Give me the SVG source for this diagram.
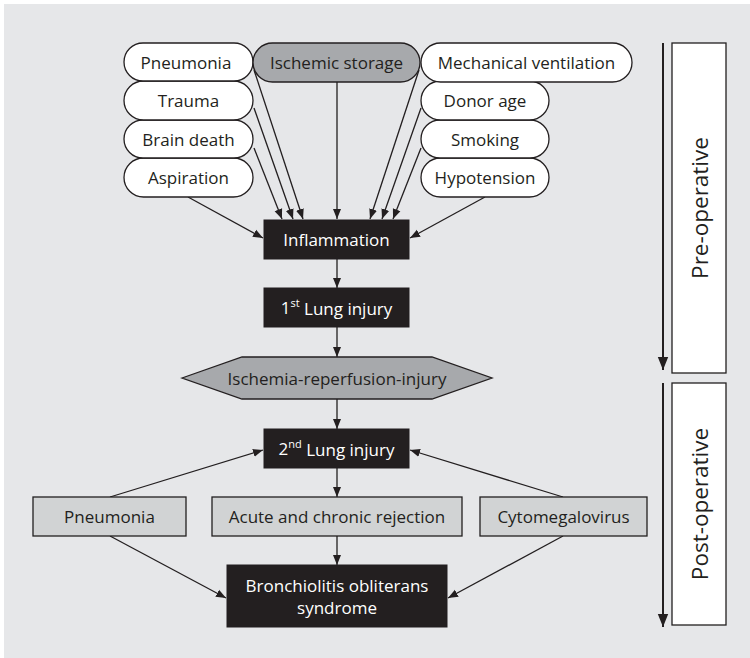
<svg xmlns="http://www.w3.org/2000/svg" width="750" height="658" viewBox="0 0 750 658">
<style>
text{font-family:"Open Sans","Liberation Sans",sans-serif;font-size:17px;text-anchor:middle;dominant-baseline:central;fill:#231f20}
.pill{fill:#ffffff;stroke:#231f20;stroke-width:1.3}
.pillg{fill:#a7a9ac;stroke:#231f20;stroke-width:1.3}
.blk{fill:#231f20;stroke:#231f20}
.wt{fill:#ffffff}
.lt{fill:#d1d3d4;stroke:#231f20;stroke-width:1.3}
.hex{fill:#a7a9ac;stroke:#231f20;stroke-width:1.3}
.side{fill:#ffffff;stroke:#231f20;stroke-width:1.3}
.c{stroke:#231f20;stroke-width:1.3;fill:none;marker-end:url(#ah)}
.vt{font-size:22.5px}
</style>
<defs>
<marker id="ah" viewBox="0 0 10 10" refX="10" refY="5" markerWidth="10" markerHeight="10" markerUnits="userSpaceOnUse" orient="auto">
<path d="M0,1 L10,5 L0,9 Z" fill="#231f20"/>
</marker>
<marker id="ahb" viewBox="0 0 10 10" refX="10" refY="5" markerWidth="13" markerHeight="13" markerUnits="userSpaceOnUse" orient="auto">
<path d="M0,1 L10,5 L0,9 Z" fill="#231f20"/>
</marker>
</defs>
<rect x="0" y="0" width="750" height="658" fill="#ffffff"/>
<rect x="4" y="4" width="746" height="654" fill="#e6e7e9"/>

<g id="connectors">
<line class="c" x1="254" y1="70" x2="303" y2="219"/>
<line class="c" x1="254" y1="108" x2="293" y2="219"/>
<line class="c" x1="254" y1="148" x2="282" y2="219"/>
<line class="c" x1="188" y1="197" x2="263" y2="238"/>
<line class="c" x1="337" y1="82" x2="337" y2="219"/>
<line class="c" x1="419" y1="70" x2="370" y2="219"/>
<line class="c" x1="421" y1="108" x2="382" y2="219"/>
<line class="c" x1="421" y1="148" x2="393" y2="219"/>
<line class="c" x1="485" y1="197" x2="410" y2="238"/>
<line class="c" x1="337" y1="259" x2="337" y2="288"/>
<line class="c" x1="337" y1="327" x2="337" y2="357"/>
<line class="c" x1="337" y1="399" x2="337" y2="429"/>
<line class="c" x1="337" y1="468" x2="337" y2="497"/>
<line class="c" x1="337" y1="536" x2="337" y2="565"/>
<line class="c" x1="110" y1="497" x2="263" y2="450"/>
<line class="c" x1="563" y1="497" x2="410" y2="450"/>
<line class="c" x1="110" y1="536" x2="226" y2="598"/>
<line class="c" x1="563" y1="536" x2="448" y2="598"/>
<line x1="663" y1="43" x2="663" y2="370" stroke="#231f20" stroke-width="2" marker-end="url(#ahb)"/>
<line x1="663" y1="383" x2="663" y2="627" stroke="#231f20" stroke-width="2" marker-end="url(#ahb)"/>
</g>

<g id="aspiration"><rect class="pill" x="124" y="158" width="129" height="39" rx="19.5"/><text x="188.5" y="177.5">Aspiration</text></g>
<g id="brain-death"><rect class="pill" x="124" y="120" width="129" height="38" rx="19"/><text x="188.5" y="139">Brain death</text></g>
<g id="trauma"><rect class="pill" x="124" y="81" width="129" height="39" rx="19.5"/><text x="188.5" y="100.5">Trauma</text></g>
<g id="pneumonia-pre"><rect class="pill" x="124" y="43" width="129" height="38" rx="19"/><text x="186" y="62">Pneumonia</text></g>
<g id="ischemic-storage"><rect class="pillg" x="253" y="43" width="167" height="39" rx="19.5"/><text x="336.5" y="62.5">Ischemic storage</text></g>

<g id="hypotension"><rect class="pill" x="421" y="158" width="128" height="39" rx="19.5"/><text x="485" y="177.5">Hypotension</text></g>
<g id="smoking"><rect class="pill" x="421" y="120" width="128" height="38" rx="19"/><text x="485" y="139">Smoking</text></g>
<g id="donor-age"><rect class="pill" x="421" y="81" width="128" height="39" rx="19.5"/><text x="485" y="100.5">Donor age</text></g>
<g id="mechanical-ventilation"><rect class="pill" x="421" y="43" width="211" height="39" rx="19.5"/><text x="526.5" y="62.5">Mechanical ventilation</text></g>

<g id="inflammation"><rect class="blk" x="264" y="220" width="145" height="39"/><text class="wt" x="336.5" y="239.5">Inflammation</text></g>
<g id="first-lung-injury"><rect class="blk" x="264" y="288" width="145" height="39"/><text class="wt" x="336.5" y="307.5">1<tspan dy="-6" font-size="11">st</tspan><tspan dy="6"> Lung injury</tspan></text></g>
<g id="ischemia-reperfusion"><polygon class="hex" points="182,378 242,357 432,357 492,378 432,399 242,399"/><text x="337" y="378">Ischemia-reperfusion-injury</text></g>
<g id="second-lung-injury"><rect class="blk" x="264" y="429" width="145" height="39"/><text class="wt" x="336.5" y="448.5">2<tspan dy="-6" font-size="11">nd</tspan><tspan dy="6"> Lung injury</tspan></text></g>

<g id="pneumonia-post"><rect class="lt" x="33" y="497" width="153" height="39"/><text x="109.5" y="516.5">Pneumonia</text></g>
<g id="rejection"><rect class="lt" x="212" y="497" width="250" height="39"/><text x="337" y="516.5">Acute and chronic rejection</text></g>
<g id="cytomegalovirus"><rect class="lt" x="480" y="497" width="167" height="39"/><text x="563.5" y="516.5">Cytomegalovirus</text></g>
<g id="bos"><rect class="blk" x="227" y="565" width="220" height="62"/><text class="wt" x="337" y="585">Bronchiolitis obliterans</text><text class="wt" x="337" y="607">syndrome</text></g>

<g id="pre-operative"><rect class="side" x="672" y="43" width="54" height="330"/><text class="vt" transform="translate(699,208) rotate(-90)">Pre-operative</text></g>
<g id="post-operative"><rect class="side" x="672" y="383" width="54" height="242"/><text class="vt" transform="translate(699,504) rotate(-90)">Post-operative</text></g>
</svg>
